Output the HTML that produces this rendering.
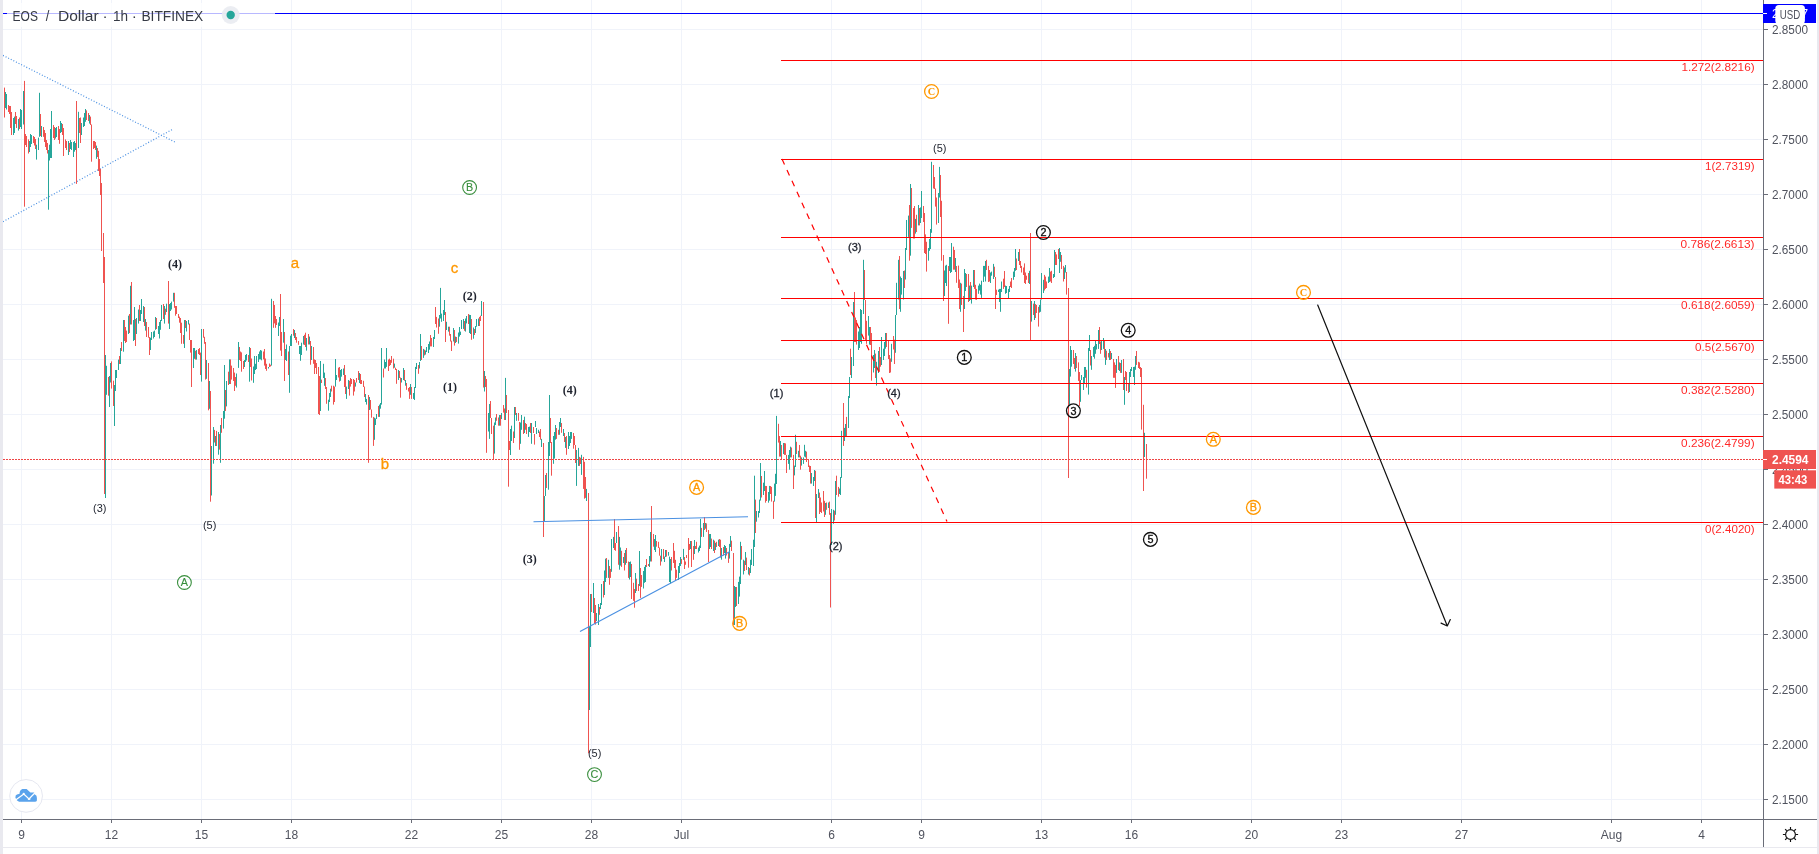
<!DOCTYPE html><html><head><meta charset="utf-8"><title>EOS / Dollar</title>
<style>html,body{margin:0;padding:0;background:#fff;}body{width:1819px;height:854px;overflow:hidden;position:relative;font-family:"Liberation Sans",sans-serif;}svg{position:absolute;left:0;top:0;display:block;will-change:transform}text{font-family:"Liberation Sans",sans-serif}.sf{font-family:"Liberation Serif",serif;font-weight:bold}</style></head><body>
<svg width="1819" height="854" viewBox="0 0 1819 854">
<rect x="0" y="0" width="1819" height="854" fill="#fff"/>
<path d="M21.5 0V819M111.5 0V819M201.5 0V819M291.5 0V819M411.5 0V819M501.5 0V819M591.5 0V819M681.5 0V819M831.5 0V819M921.5 0V819M1041.5 0V819M1131.5 0V819M1251.5 0V819M1341.5 0V819M1461.5 0V819M1611.5 0V819M1701.5 0V819M3 29.5H1763M3 84.5H1763M3 139.5H1763M3 194.5H1763M3 249.5H1763M3 304.5H1763M3 359.5H1763M3 414.5H1763M3 469.5H1763M3 524.5H1763M3 579.5H1763M3 634.5H1763M3 689.5H1763M3 744.5H1763M3 799.5H1763" stroke="#f0f3fa" stroke-width="1" fill="none" shape-rendering="crispEdges"/>
<path d="M3 13.5H1763" stroke="#0000ff" stroke-width="1" shape-rendering="crispEdges"/>
<path d="M3 55.4L176 142.6M3 221.7L173 129.1" stroke="#4a90e2" stroke-width="1.2" stroke-dasharray="1 1.9" fill="none"/>
<path d="M4.5 87.6V117.5M8.5 105.0V112.0M9.5 106.0V114.0M10.5 106.0V128.0M11.5 112.0V135.0M15.5 112.0V124.0M16.5 116.0V128.0M19.5 117.5V129.0M24.5 80.9V206.7M25.5 134.0V145.0M26.5 136.0V147.0M28.5 139.4V153.5M33.5 136.0V143.0M34.5 137.0V145.5M35.5 139.0V149.0M40.5 114.0V136.0M43.5 127.0V136.8M44.5 130.0V142.0M45.5 133.0V147.0M46.5 140.0V150.0M47.5 143.0V153.5M53.5 125.0V138.0M54.5 127.0V140.0M58.5 126.0V140.0M59.5 129.0V143.8M62.5 124.0V135.0M63.5 128.0V156.0M65.5 139.4V148.0M66.5 141.0V150.0M69.5 143.0V152.0M76.5 101.0V183.9M79.5 118.0V133.0M80.5 117.5V143.0M86.5 110.4V120.0M88.5 113.0V121.0M90.5 116.6V125.0M91.5 124.5V161.7M93.5 141.0V149.0M94.5 141.0V148.0M95.5 142.0V150.0M97.5 148.0V157.0M98.5 150.8V171.0M99.5 159.0V176.0M100.5 169.0V195.0M101.5 183.0V251.0M103.5 233.0V283.0M104.5 257.0V494.0M108.5 377.0V395.7M111.5 361.4V388.6M113.5 380.7V406.0M119.5 356.0V364.0M121.5 342.0V351.0M124.5 320.0V341.0M125.5 327.0V343.0M126.5 330.6V342.0M129.5 314.0V333.0M131.5 282.0V324.5M135.5 319.0V346.0M139.5 305.0V321.0M144.5 307.0V326.0M146.5 322.0V337.0M148.5 327.0V337.7M149.5 337.0V355.0M156.5 318.0V329.0M163.5 304.0V319.0M165.5 308.7V314.8M168.5 281.0V323.6M174.5 292.8V307.8M175.5 306.0V315.7M176.5 306.0V314.0M178.5 314.0V318.0M179.5 316.6V322.7M180.5 318.0V333.0M181.5 322.7V343.8M183.5 335.0V343.8M185.5 320.0V328.0M189.5 323.6V340.0M190.5 340.0V352.6M191.5 340.0V387.0M195.5 350.8V359.6M198.5 349.0V354.0M199.5 348.0V355.0M200.5 352.6V375.0M203.5 329.0V337.7M204.5 336.8V343.8M205.5 342.0V379.6M208.5 363.0V410.3M210.5 391.0V501.7M214.5 429.9V442.5M216.5 430.9V446.0M219.5 434.0V449.6M221.5 418.0V432.8M225.5 390.0V411.0M228.5 371.7V385.0M230.5 359.4V384.0M231.5 365.6V379.6M233.5 368.0V381.0M234.5 372.6V391.0M235.5 377.0V385.8M239.5 347.0V360.0M240.5 351.5V361.0M241.5 352.4V371.7M243.5 361.0V369.0M248.5 355.0V362.0M250.5 348.0V367.0M251.5 358.5V380.5M263.5 351.5V359.4M264.5 349.0V365.6M265.5 358.5V369.0M266.5 363.8V370.8M269.5 363.5V367.0M270.5 364.7V366.5M273.5 301.0V327.8M274.5 305.0V323.4M275.5 316.0V327.8M276.5 319.0V325.0M280.5 294.0V350.6M281.5 332.0V356.0M284.5 332.0V381.0M288.5 351.5V375.0M293.5 329.0V335.7M295.5 333.0V340.0M296.5 337.0V342.7M298.5 341.0V344.8M304.5 334.8V345.0M305.5 332.7V347.0M308.5 334.0V344.5M310.5 341.0V364.7M313.5 347.0V363.8M314.5 359.4V374.0M315.5 360.0V368.0M316.5 363.0V374.0M318.5 367.0V414.0M319.5 376.0V415.0M321.5 379.6V383.0M325.5 378.0V389.0M326.5 387.0V403.8M331.5 385.7V391.5M333.5 385.7V404.6M334.5 386.6V402.0M338.5 367.7V377.5M339.5 367.0V381.6M344.5 365.0V387.0M345.5 375.0V394.0M349.5 380.8V395.6M350.5 378.0V386.6M351.5 379.0V384.0M353.5 379.0V395.6M354.5 380.0V391.5M356.5 378.0V382.5M358.5 371.0V380.0M360.5 374.0V384.0M361.5 380.0V384.0M363.5 380.8V387.0M364.5 386.6V397.0M368.5 395.0V462.8M370.5 400.0V409.5M371.5 409.5V417.7M373.5 416.9V445.9M378.5 406.0V416.9M383.5 368.5V377.5M388.5 359.5V371.0M389.5 358.7V366.0M390.5 360.0V365.0M391.5 356.0V362.8M393.5 358.7V368.5M395.5 367.7V370.0M396.5 369.0V383.8M399.5 371.0V378.0M400.5 377.5V397.7M404.5 370.0V380.8M406.5 383.0V389.8M408.5 388.0V391.5M409.5 387.0V398.9M411.5 387.0V398.9M418.5 365.0V373.8M421.5 346.0V360.0M424.5 349.7V355.4M430.5 335.0V346.4M431.5 338.0V346.4M435.5 307.0V324.0M436.5 316.9V327.5M438.5 318.5V333.8M445.5 312.0V342.0M449.5 326.7V335.7M450.5 334.0V341.5M451.5 340.7V351.0M454.5 330.0V345.6M456.5 337.0V342.0M464.5 321.0V330.8M468.5 314.0V324.0M471.5 319.0V339.8M474.5 329.0V335.0M479.5 316.9V326.0M480.5 315.7V321.0M483.5 302.0V387.5M485.5 376.0V387.0M486.5 379.0V452.8M490.5 401.0V418.0M491.5 418.0V434.0M493.5 425.7V459.0M496.5 414.0V420.8M498.5 417.5V425.7M500.5 415.0V425.7M503.5 405.0V412.6M504.5 408.5V420.0M506.5 395.0V413.0M508.5 410.0V486.7M509.5 441.0V450.0M513.5 431.5V443.0M515.5 407.0V415.0M518.5 413.0V420.8M519.5 422.0V449.8M523.5 420.0V434.0M525.5 423.0V429.8M526.5 424.0V434.0M530.5 423.0V433.0M533.5 427.0V433.0M534.5 434.0V444.6M539.5 431.5V437.0M540.5 429.0V439.7M543.5 443.0V537.0M546.5 473.0V488.0M550.5 418.0V443.0M551.5 442.0V475.7M556.5 428.0V438.9M558.5 429.8V434.8M561.5 423.0V432.8M564.5 433.0V442.0M566.5 436.0V454.8M573.5 433.0V448.7M574.5 436.0V445.0M575.5 445.0V463.0M579.5 456.9V465.9M580.5 457.7V464.0M583.5 456.9V488.9M584.5 461.8V498.7M585.5 477.0V497.9M588.5 493.0V753.3M591.5 594.0V612.0M594.5 598.0V623.8M595.5 605.0V624.6M599.5 607.0V614.8M603.5 581.0V597.5M606.5 558.0V577.9M609.5 566.0V584.8M610.5 568.9V577.9M614.5 519.0V550.0M615.5 543.0V550.8M618.5 526.0V564.8M621.5 550.8V566.9M624.5 553.0V570.5M626.5 548.0V563.0M628.5 561.5V577.9M631.5 564.0V599.0M633.5 582.8V600.8M634.5 589.0V607.7M636.5 578.7V591.0M638.5 584.0V591.0M640.5 568.0V597.9M641.5 575.0V586.9M646.5 559.0V567.0M648.5 564.0V566.0M651.5 506.0V561.5M653.5 534.0V546.7M656.5 541.0V546.7M658.5 541.8V548.0M659.5 547.5V555.7M660.5 555.7V565.6M663.5 549.0V559.0M666.5 550.0V556.6M671.5 557.0V570.5M673.5 543.0V563.0M674.5 550.8V568.0M675.5 559.8V581.0M676.5 569.7V577.9M681.5 559.0V563.9M684.5 557.0V569.0M685.5 561.5V564.8M686.5 555.0V558.0M688.5 538.0V567.7M689.5 544.0V550.0M691.5 541.0V567.0M693.5 546.0V559.8M695.5 546.0V549.0M696.5 541.8V549.0M701.5 527.9V536.9M704.5 517.0V530.0M706.5 523.4V532.0M708.5 530.0V562.0M711.5 538.6V549.0M714.5 540.7V553.0M716.5 541.8V547.0M719.5 539.0V547.0M720.5 539.7V557.6M723.5 547.0V555.5M726.5 548.0V555.5M728.5 552.0V562.9M731.5 540.7V551.0M733.5 553.0V625.0M736.5 587.0V606.0M741.5 546.0V559.7M744.5 560.8V571.0M746.5 557.6V570.0M749.5 568.0V575.5M755.5 499.6V533.0M761.5 476.0V497.5M765.5 485.9V502.7M766.5 486.0V501.0M770.5 486.0V494.0M771.5 486.9V501.6M773.5 500.8V518.9M778.5 423.8V442.6M779.5 436.0V456.6M781.5 445.0V459.8M784.5 443.0V454.9M785.5 443.4V454.9M786.5 454.9V473.0M791.5 447.5V457.4M793.5 454.9V489.0M796.5 441.8V454.0M799.5 445.0V457.4M800.5 455.7V469.7M806.5 451.6V462.0M808.5 459.8V467.0M809.5 465.6V472.0M810.5 466.0V483.6M815.5 470.8V518.0M819.5 492.6V514.0M820.5 497.5V512.0M821.5 502.5V513.0M823.5 491.0V511.5M824.5 500.8V517.0M826.5 502.5V509.8M829.5 501.6V514.8M830.5 513.0V607.5M834.5 510.7V520.5M836.5 475.7V495.0M838.5 486.9V496.7M843.5 403.0V445.9M846.5 416.9V436.0M850.5 348.7V375.0M854.5 292.0V342.0M855.5 317.5V342.0M856.5 320.0V344.6M864.5 270.0V300.0M865.5 300.0V340.5M866.5 320.8V343.8M870.5 327.0V345.0M871.5 333.0V380.7M875.5 353.6V378.0M879.5 347.0V371.6M880.5 357.0V366.7M886.5 333.0V347.0M888.5 341.0V359.0M889.5 355.0V373.0M890.5 358.5V372.5M893.5 336.0V349.5M894.5 339.7V364.0M899.5 256.0V309.0M904.5 270.5V288.0M909.5 205.0V260.7M911.5 188.0V227.9M913.5 208.0V238.5M914.5 206.0V238.5M916.5 214.8V232.0M919.5 208.0V225.4M923.5 206.0V222.0M924.5 213.0V253.0M925.5 234.4V254.0M926.5 241.8V271.6M933.5 165.0V188.5M934.5 177.0V189.0M935.5 188.5V206.6M936.5 197.5V224.6M940.5 175.0V217.0M941.5 200.8V260.7M943.5 255.0V301.0M948.5 266.0V323.8M953.5 246.7V269.7M954.5 250.0V269.7M956.5 266.0V282.8M958.5 265.6V288.0M959.5 279.5V309.0M961.5 283.6V305.0M963.5 296.0V332.0M966.5 274.0V287.0M968.5 274.0V302.0M970.5 282.0V300.0M974.5 270.0V288.9M975.5 284.8V299.5M976.5 288.9V299.8M986.5 259.8V270.0M988.5 265.9V282.0M989.5 270.0V281.5M994.5 266.7V277.0M995.5 277.0V309.0M996.5 289.7V295.0M1003.5 278.7V288.9M1004.5 271.0V287.0M1010.5 281.5V287.0M1011.5 278.0V288.0M1016.5 258.5V270.0M1019.5 249.0V265.0M1020.5 261.0V268.0M1021.5 265.9V272.5M1023.5 267.5V275.0M1024.5 263.4V283.0M1025.5 272.5V284.0M1026.5 275.7V279.8M1028.5 273.0V283.0M1030.5 233.0V340.5M1033.5 303.6V315.0M1035.5 304.0V318.0M1036.5 305.0V313.0M1038.5 306.9V326.6M1044.5 274.9V290.5M1045.5 276.6V288.9M1046.5 281.5V288.0M1050.5 271.6V281.5M1051.5 270.8V283.0M1055.5 252.0V265.0M1056.5 254.4V265.0M1058.5 249.0V259.0M1061.5 255.0V269.0M1063.5 265.9V281.5M1066.5 272.0V294.6M1068.5 288.0V478.0M1073.5 350.0V364.0M1074.5 358.0V369.0M1076.5 356.0V368.0M1078.5 362.4V380.9M1079.5 372.0V406.0M1086.5 369.8V387.6M1090.5 350.0V365.5M1099.5 327.0V344.0M1100.5 341.5V353.8M1104.5 340.0V357.5M1106.5 350.7V360.0M1108.5 353.0V357.5M1110.5 351.0V360.0M1113.5 359.0V377.8M1114.5 362.4V377.8M1115.5 364.9V387.9M1118.5 356.0V370.0M1120.5 363.0V372.9M1123.5 359.0V390.0M1125.5 371.0V380.0M1126.5 372.0V391.0M1128.5 383.0V393.0M1136.5 351.0V364.9M1138.5 361.8V368.0M1139.5 362.4V369.0M1140.5 367.0V377.0M1141.5 368.0V429.6M1143.5 404.8V491.0M1146.5 444.0V478.7" stroke="#ef5350" stroke-width="1" fill="none"/>
<path d="M5.5 92.0V108.0M6.5 94.0V109.5M13.5 118.0V135.0M14.5 116.6V133.0M18.5 119.0V130.6M20.5 109.0V127.0M21.5 110.0V129.0M23.5 91.0V124.5M29.5 141.0V152.0M30.5 134.0V147.0M31.5 135.0V144.0M36.5 144.7V159.6M38.5 137.6V150.0M39.5 92.8V136.8M41.5 126.0V137.0M48.5 150.0V209.7M49.5 144.7V160.5M50.5 129.0V158.0M51.5 111.0V158.0M55.5 128.0V138.5M56.5 127.0V137.0M60.5 121.0V133.0M61.5 123.0V132.0M68.5 141.0V155.0M70.5 140.0V149.0M71.5 142.0V150.0M73.5 142.0V157.0M74.5 141.0V151.7M75.5 143.0V150.0M78.5 111.8V148.0M81.5 123.0V135.0M83.5 117.5V127.0M84.5 113.0V126.0M85.5 109.0V121.8M89.5 115.0V123.6M96.5 145.6V158.8M105.5 355.0V498.0M106.5 365.8V394.8M109.5 376.0V407.0M110.5 363.0V382.5M114.5 385.0V426.0M115.5 370.0V391.0M116.5 370.0V378.0M118.5 359.6V370.0M120.5 348.0V364.0M123.5 320.0V351.7M128.5 315.7V334.0M130.5 285.8V324.5M133.5 320.0V341.0M134.5 307.0V340.0M136.5 318.0V334.0M138.5 309.5V323.6M140.5 310.0V321.0M141.5 299.0V314.0M143.5 306.0V322.0M145.5 319.0V330.6M150.5 337.7V350.0M151.5 332.0V340.0M153.5 331.5V338.5M154.5 330.6V337.0M155.5 317.0V329.8M158.5 326.0V334.0M159.5 322.0V338.5M160.5 320.0V329.8M161.5 305.0V321.0M164.5 306.0V323.6M166.5 303.7V312.0M169.5 304.0V329.0M170.5 303.0V311.0M171.5 301.6V309.5M173.5 292.8V301.6M184.5 320.0V348.0M186.5 321.0V331.5M188.5 320.0V324.5M193.5 348.0V368.0M194.5 348.0V358.8M196.5 350.0V359.6M201.5 329.0V381.6M206.5 360.0V378.8M209.5 381.0V408.8M211.5 446.0V495.5M213.5 427.0V463.7M215.5 436.0V446.0M218.5 432.0V454.7M220.5 425.0V462.8M223.5 411.0V428.6M224.5 365.0V418.7M226.5 381.0V406.4M229.5 359.4V384.0M236.5 373.5V387.5M238.5 342.0V367.9M244.5 360.0V367.0M245.5 355.0V362.0M246.5 354.0V360.5M249.5 347.0V381.7M253.5 366.5V382.8M254.5 356.0V374.0M255.5 363.8V370.0M256.5 356.0V369.0M258.5 354.0V362.0M259.5 351.5V359.4M260.5 350.0V359.4M261.5 350.6V360.3M268.5 367.0V368.5M271.5 298.8V365.6M278.5 322.5V336.0M279.5 317.0V326.0M283.5 319.0V342.7M285.5 349.0V360.0M286.5 344.5V361.0M289.5 346.0V392.8M290.5 335.7V346.0M291.5 334.0V346.0M294.5 330.0V338.0M299.5 346.0V354.0M300.5 346.0V360.8M301.5 342.7V355.0M303.5 336.0V344.5M306.5 338.0V350.6M309.5 336.6V344.5M311.5 346.0V360.0M320.5 361.0V411.0M323.5 363.8V378.0M324.5 372.6V385.8M328.5 399.7V410.7M329.5 393.0V402.0M330.5 388.7V397.0M335.5 359.0V386.6M336.5 375.0V380.0M340.5 370.0V380.8M341.5 369.0V376.7M343.5 368.5V375.0M346.5 386.6V398.9M348.5 380.0V389.0M355.5 382.5V386.6M359.5 373.0V383.0M365.5 394.0V402.0M366.5 398.9V404.6M369.5 397.0V410.0M374.5 417.7V439.8M375.5 418.5V425.0M376.5 414.0V419.0M379.5 404.6V416.9M380.5 403.0V408.7M381.5 348.0V404.6M384.5 359.5V368.5M385.5 362.0V368.5M386.5 348.0V366.9M394.5 363.6V367.7M398.5 370.0V380.0M401.5 378.0V382.5M403.5 368.0V380.0M405.5 380.0V385.7M410.5 384.0V394.8M413.5 393.0V398.9M414.5 387.0V400.0M415.5 366.9V388.0M416.5 363.0V369.0M419.5 362.0V368.5M420.5 334.0V361.0M423.5 348.9V357.9M425.5 350.5V354.6M426.5 347.0V352.0M428.5 344.0V353.0M429.5 341.5V349.7M433.5 337.0V347.0M434.5 330.0V339.0M439.5 315.0V326.7M440.5 287.9V318.5M441.5 313.6V321.8M443.5 310.0V321.0M444.5 300.0V315.0M446.5 321.8V330.0M448.5 326.7V331.6M453.5 328.0V341.5M455.5 336.6V343.0M458.5 332.5V343.6M459.5 327.0V336.6M460.5 331.6V335.0M461.5 320.0V329.0M463.5 319.0V328.9M465.5 318.5V331.6M466.5 316.0V323.4M469.5 314.8V333.0M470.5 315.0V334.0M473.5 327.5V338.7M475.5 326.0V333.0M476.5 319.0V326.7M478.5 318.5V326.0M481.5 301.0V316.0M484.5 371.0V391.5M488.5 413.0V431.5M489.5 404.0V438.9M494.5 422.5V453.6M495.5 417.5V425.0M499.5 415.0V425.7M501.5 413.0V419.0M505.5 377.9V420.0M510.5 429.0V455.0M511.5 425.7V441.0M514.5 407.0V438.0M516.5 413.0V420.8M520.5 422.5V443.8M521.5 415.0V429.8M524.5 416.7V433.0M528.5 427.0V436.9M529.5 426.6V432.0M531.5 423.0V443.8M535.5 421.0V427.0M536.5 428.0V434.0M538.5 429.8V433.0M541.5 438.9V447.0M544.5 496.0V522.0M545.5 475.0V496.0M548.5 442.0V489.7M549.5 395.0V456.0M553.5 436.0V463.8M554.5 432.0V458.5M555.5 425.0V439.7M559.5 422.0V434.8M560.5 418.0V427.0M563.5 429.0V436.0M565.5 437.0V447.9M568.5 432.0V449.0M569.5 436.0V446.0M570.5 432.0V443.0M571.5 432.0V438.9M576.5 450.0V485.9M578.5 447.9V465.9M581.5 454.8V474.9M586.5 488.9V501.0M589.5 627.0V710.0M590.5 594.0V647.0M593.5 583.0V613.0M596.5 613.0V621.0M598.5 604.0V625.0M600.5 603.0V609.0M601.5 584.0V605.0M604.5 570.5V595.0M605.5 558.7V582.0M608.5 559.8V577.9M611.5 539.0V571.8M613.5 536.9V548.0M616.5 532.0V543.0M619.5 536.9V569.7M620.5 547.5V565.6M623.5 557.0V563.0M625.5 550.0V564.8M629.5 562.0V579.5M630.5 561.5V577.0M635.5 573.0V593.0M639.5 551.0V586.0M643.5 571.0V588.5M644.5 566.9V582.8M645.5 565.0V582.0M649.5 556.0V567.0M650.5 532.0V561.5M654.5 539.0V550.0M655.5 535.0V552.0M661.5 549.0V561.5M664.5 556.6V562.0M665.5 550.0V557.0M668.5 552.0V555.7M669.5 556.6V582.0M670.5 559.0V583.6M678.5 566.0V580.0M679.5 563.0V573.0M680.5 557.0V566.0M683.5 548.9V559.8M690.5 541.0V549.0M694.5 540.0V554.0M698.5 547.5V552.5M699.5 545.6V551.0M700.5 518.9V548.0M703.5 523.0V536.9M705.5 523.0V528.7M709.5 534.0V549.0M710.5 534.0V547.0M713.5 539.7V551.0M715.5 542.8V550.0M718.5 539.7V546.0M721.5 548.0V559.7M724.5 545.0V553.0M725.5 546.0V558.6M729.5 543.9V558.6M730.5 536.0V547.0M734.5 586.0V625.0M735.5 587.0V607.0M738.5 581.9V604.0M739.5 576.6V596.6M740.5 541.8V584.0M743.5 559.7V574.5M745.5 552.0V565.0M748.5 567.0V574.5M750.5 559.7V573.0M751.5 549.0V565.0M753.5 539.7V566.0M754.5 475.7V547.0M756.5 511.0V521.7M758.5 511.0V517.5M759.5 499.6V513.0M760.5 463.0V500.6M763.5 482.7V495.0M764.5 471.0V491.0M768.5 492.0V502.7M769.5 485.9V500.6M774.5 483.6V501.6M775.5 473.8V495.9M776.5 415.9V484.0M780.5 441.0V456.6M783.5 443.0V454.0M788.5 454.9V463.9M789.5 450.0V469.7M790.5 446.7V457.4M794.5 465.6V475.4M795.5 434.8V467.0M798.5 450.8V457.4M801.5 457.4V465.6M803.5 457.4V463.9M804.5 444.8V456.6M805.5 450.8V457.4M811.5 473.0V483.6M813.5 477.0V486.0M814.5 470.0V481.0M816.5 494.0V523.0M818.5 489.0V498.0M825.5 503.0V514.8M828.5 502.5V508.0M831.5 509.0V545.0M833.5 509.8V523.8M835.5 481.0V514.8M839.5 488.5V494.0M840.5 477.0V495.0M841.5 430.8V477.9M844.5 427.9V441.0M845.5 424.0V436.9M848.5 396.0V428.0M849.5 377.0V398.0M851.5 357.0V378.0M853.5 302.0V366.0M858.5 331.5V350.0M859.5 327.0V348.0M860.5 309.0V342.0M861.5 310.0V343.8M863.5 259.8V314.0M868.5 316.0V335.6M869.5 327.0V344.6M873.5 355.0V372.5M874.5 350.0V368.0M876.5 361.8V385.6M878.5 351.0V373.0M881.5 337.0V365.0M883.5 348.7V360.0M884.5 342.0V356.0M885.5 333.0V348.7M891.5 343.8V361.8M895.5 315.0V352.8M896.5 282.8V315.0M898.5 259.8V299.5M900.5 276.5V311.8M901.5 278.0V294.6M903.5 271.0V299.5M905.5 248.0V279.5M906.5 220.0V250.0M908.5 215.6V236.9M910.5 184.0V255.7M915.5 218.9V233.6M918.5 205.0V225.4M920.5 207.4V223.0M921.5 191.0V218.0M928.5 248.0V260.7M929.5 239.0V250.8M930.5 229.0V249.0M931.5 161.8V232.8M938.5 193.0V223.0M939.5 166.9V197.5M944.5 270.5V296.0M945.5 265.6V283.0M946.5 264.8V286.0M949.5 257.0V271.0M950.5 257.0V273.0M951.5 243.0V272.0M955.5 258.0V272.0M960.5 282.8V311.8M964.5 269.0V309.0M965.5 273.0V291.0M969.5 285.6V301.0M971.5 285.6V303.6M973.5 270.0V287.0M978.5 285.6V293.8M979.5 283.6V290.5M980.5 284.8V294.6M981.5 280.7V297.9M983.5 265.9V282.0M984.5 265.9V276.6M985.5 261.0V281.5M990.5 272.5V283.0M991.5 271.6V275.7M993.5 263.9V279.0M998.5 289.7V292.0M999.5 288.9V302.0M1000.5 288.9V311.8M1001.5 281.5V292.0M1005.5 285.6V293.8M1006.5 286.0V293.0M1008.5 288.9V298.7M1009.5 286.0V292.0M1013.5 271.6V279.8M1014.5 268.0V277.0M1015.5 249.0V270.8M1018.5 252.0V261.0M1029.5 270.8V284.0M1031.5 301.0V321.6M1034.5 301.0V320.0M1039.5 305.0V312.6M1040.5 299.5V311.8M1041.5 273.0V299.5M1043.5 279.8V293.0M1048.5 276.6V283.0M1049.5 268.0V282.0M1053.5 274.0V278.0M1054.5 250.0V277.0M1059.5 248.0V273.0M1060.5 252.0V261.8M1064.5 267.5V279.0M1065.5 265.0V272.5M1069.5 369.0V404.8M1070.5 346.0V376.6M1071.5 350.0V366.7M1075.5 353.0V371.6M1080.5 380.0V401.8M1081.5 375.0V380.0M1083.5 377.0V390.0M1084.5 367.0V384.0M1085.5 367.0V377.8M1088.5 348.0V394.6M1089.5 335.0V351.0M1091.5 356.0V369.8M1093.5 347.0V356.9M1094.5 345.8V358.7M1095.5 340.0V353.8M1096.5 344.0V349.5M1098.5 330.0V348.9M1101.5 340.0V350.0M1103.5 338.0V348.9M1105.5 349.0V364.9M1109.5 349.0V360.0M1111.5 353.0V359.0M1116.5 359.0V372.9M1119.5 362.4V371.0M1121.5 360.0V372.9M1124.5 377.0V404.8M1129.5 372.0V392.0M1130.5 369.0V377.0M1131.5 367.0V371.0M1133.5 367.0V377.0M1134.5 366.7V385.0M1135.5 356.0V369.8M1144.5 432.8V457.0" stroke="#26a69a" stroke-width="1" fill="none"/>
<path d="M533.5 521.8L748 516.8M580 631.5L730 551.4" stroke="#4a90e2" stroke-width="1.1" fill="none"/>
<rect x="781" y="60" width="982" height="1" fill="#ff0000"/>
<text x="1754.6" y="71.2" font-size="11.5" fill="#ff0000" fill-opacity="0.85" text-anchor="end" textLength="73.2" lengthAdjust="spacingAndGlyphs">1.272(2.8216)</text>
<rect x="781" y="159" width="982" height="1" fill="#ff0000"/>
<text x="1754.6" y="170.2" font-size="11.5" fill="#ff0000" fill-opacity="0.85" text-anchor="end" textLength="49.5" lengthAdjust="spacingAndGlyphs">1(2.7319)</text>
<rect x="781" y="237" width="982" height="1" fill="#ff0000"/>
<text x="1754.6" y="248.2" font-size="11.5" fill="#ff0000" fill-opacity="0.85" text-anchor="end" textLength="74" lengthAdjust="spacingAndGlyphs">0.786(2.6613)</text>
<rect x="781" y="298" width="982" height="1" fill="#ff0000"/>
<text x="1754.6" y="309.2" font-size="11.5" fill="#ff0000" fill-opacity="0.85" text-anchor="end" textLength="73.5" lengthAdjust="spacingAndGlyphs">0.618(2.6059)</text>
<rect x="781" y="340" width="982" height="1" fill="#ff0000"/>
<text x="1754.6" y="351.2" font-size="11.5" fill="#ff0000" fill-opacity="0.85" text-anchor="end" textLength="59.5" lengthAdjust="spacingAndGlyphs">0.5(2.5670)</text>
<rect x="781" y="383" width="982" height="1" fill="#ff0000"/>
<text x="1754.6" y="394.2" font-size="11.5" fill="#ff0000" fill-opacity="0.85" text-anchor="end" textLength="73.5" lengthAdjust="spacingAndGlyphs">0.382(2.5280)</text>
<rect x="781" y="436" width="982" height="1" fill="#ff0000"/>
<text x="1754.6" y="447.2" font-size="11.5" fill="#ff0000" fill-opacity="0.85" text-anchor="end" textLength="73.5" lengthAdjust="spacingAndGlyphs">0.236(2.4799)</text>
<rect x="781" y="522" width="982" height="1" fill="#ff0000"/>
<text x="1754.6" y="533.2" font-size="11.5" fill="#ff0000" fill-opacity="0.85" text-anchor="end" textLength="49.5" lengthAdjust="spacingAndGlyphs">0(2.4020)</text>
<path d="M782 159L947 521.5" stroke="#ff0000" stroke-width="1.2" stroke-dasharray="6 6" fill="none"/>
<path d="M3 459.5H1763" stroke="#ee4646" stroke-width="1" stroke-dasharray="2 1" shape-rendering="crispEdges"/>
<path d="M1317.7 305L1447.3 626M1441.1 623.1L1447.3 626L1450.3 619.6" stroke="#111" stroke-width="1.2" fill="none" stroke-linecap="round" stroke-linejoin="round"/>
<text class="sf" x="175" y="268.2" font-size="12" fill="#1e222d" text-anchor="middle">(4)</text>
<text class="sf" x="450" y="391.2" font-size="12" fill="#1e222d" text-anchor="middle">(1)</text>
<text class="sf" x="469.8" y="300.4" font-size="12" fill="#1e222d" text-anchor="middle">(2)</text>
<text class="sf" x="569.7" y="394.0" font-size="12" fill="#1e222d" text-anchor="middle">(4)</text>
<text class="sf" x="529.8" y="563.1" font-size="12" fill="#1e222d" text-anchor="middle">(3)</text>
<text x="594.6" y="757.1" font-size="10.99" fill="#1e222d" font-weight="normal" text-anchor="middle">(5)</text>
<text x="939.7" y="152.2" font-size="10.99" fill="#1e222d" font-weight="normal" text-anchor="middle">(5)</text>
<text x="776.6" y="397.2" font-size="11" fill="#1e222d" font-weight="normal" text-anchor="middle" stroke="#1e222d" stroke-width="0.3">(1)</text>
<text x="835.8" y="550.1" font-size="11" fill="#1e222d" font-weight="normal" text-anchor="middle" stroke="#1e222d" stroke-width="0.3">(2)</text>
<text x="854.8" y="250.8" font-size="11" fill="#1e222d" font-weight="normal" text-anchor="middle" stroke="#1e222d" stroke-width="0.3">(3)</text>
<text x="893.9" y="397.1" font-size="11" fill="#1e222d" font-weight="normal" text-anchor="middle" stroke="#1e222d" stroke-width="0.3">(4)</text>
<text x="99.7" y="511.9" font-size="10.99" fill="#1e222d" font-weight="normal" text-anchor="middle">(3)</text>
<text x="209.6" y="528.9" font-size="10.99" fill="#1e222d" font-weight="normal" text-anchor="middle">(5)</text>
<text x="294.8" y="268.2" font-size="15" fill="#ff9800" font-weight="normal" text-anchor="middle" stroke="#ff9800" stroke-width="0.3">a</text>
<text x="385" y="469.4" font-size="15" fill="#ff9800" font-weight="normal" text-anchor="middle" stroke="#ff9800" stroke-width="0.3">b</text>
<text x="454.6" y="272.8" font-size="15" fill="#ff9800" font-weight="normal" text-anchor="middle" stroke="#ff9800" stroke-width="0.3">c</text>
<circle cx="184.4" cy="582.5" r="6.9" fill="none" stroke="#388e3c" stroke-width="1.1"/>
<text x="184.4" y="586.3" font-size="10.8" fill="#388e3c" stroke="#388e3c" stroke-width="0.1" text-anchor="middle">A</text>
<circle cx="469.6" cy="187.5" r="6.9" fill="none" stroke="#388e3c" stroke-width="1.1"/>
<text x="469.6" y="191.3" font-size="10.8" fill="#388e3c" stroke="#388e3c" stroke-width="0.1" text-anchor="middle">B</text>
<circle cx="594.5" cy="774.6" r="6.9" fill="none" stroke="#388e3c" stroke-width="1.1"/>
<text x="594.5" y="778.4" font-size="10.8" fill="#388e3c" stroke="#388e3c" stroke-width="0.1" text-anchor="middle">C</text>
<circle cx="696.6" cy="487.4" r="6.9" fill="none" stroke="#ff9800" stroke-width="1.3"/>
<text x="696.6" y="491.2" font-size="10.8" fill="#ff9800" stroke="#ff9800" stroke-width="0.35" text-anchor="middle">A</text>
<circle cx="739.6" cy="623.4" r="6.9" fill="none" stroke="#ff9800" stroke-width="1.3"/>
<text x="739.6" y="627.1999999999999" font-size="10.8" fill="#ff9800" stroke="#ff9800" stroke-width="0.35" text-anchor="middle">B</text>
<circle cx="1213.3" cy="439.3" r="6.9" fill="none" stroke="#ff9800" stroke-width="1.3"/>
<text x="1213.3" y="443.1" font-size="10.8" fill="#ff9800" stroke="#ff9800" stroke-width="0.35" text-anchor="middle">A</text>
<circle cx="1253.4" cy="507.4" r="6.9" fill="none" stroke="#ff9800" stroke-width="1.3"/>
<text x="1253.4" y="511.2" font-size="10.8" fill="#ff9800" stroke="#ff9800" stroke-width="0.35" text-anchor="middle">B</text>
<circle cx="931.5" cy="91.5" r="6.9" fill="none" stroke="#ff9800" stroke-width="1.3"/>
<text class="sf" x="931.5" y="95.0" font-size="10.3" fill="#ff9800" text-anchor="middle">C</text>
<circle cx="1303.5" cy="292.4" r="6.9" fill="none" stroke="#ff9800" stroke-width="1.3"/>
<text class="sf" x="1303.5" y="295.9" font-size="10.3" fill="#ff9800" text-anchor="middle">C</text>
<circle cx="964.3" cy="357.4" r="6.9" fill="none" stroke="#111" stroke-width="1.3"/>
<text x="964.3" y="361.2" font-size="10.8" fill="#111" stroke="#111" stroke-width="0.35" text-anchor="middle">1</text>
<circle cx="1043.4" cy="232.5" r="6.9" fill="none" stroke="#111" stroke-width="1.3"/>
<text x="1043.4" y="236.3" font-size="10.8" fill="#111" stroke="#111" stroke-width="0.35" text-anchor="middle">2</text>
<circle cx="1073.4" cy="410.8" r="6.9" fill="none" stroke="#111" stroke-width="1.3"/>
<text x="1073.4" y="414.6" font-size="10.8" fill="#111" stroke="#111" stroke-width="0.35" text-anchor="middle">3</text>
<circle cx="1128.2" cy="330.3" r="6.9" fill="none" stroke="#111" stroke-width="1.3"/>
<text x="1128.2" y="334.1" font-size="10.8" fill="#111" stroke="#111" stroke-width="0.35" text-anchor="middle">4</text>
<circle cx="1150.4" cy="539.4" r="6.9" fill="none" stroke="#111" stroke-width="1.3"/>
<text x="1150.4" y="543.1999999999999" font-size="10.8" fill="#111" stroke="#111" stroke-width="0.35" text-anchor="middle">5</text>
<rect x="7" y="3" width="268" height="24" fill="#fff" fill-opacity="0.72"/>
<text x="12.6" y="21.2" font-size="15.4" fill="#363a45" textLength="25.3" lengthAdjust="spacingAndGlyphs">EOS</text>
<text x="45.7" y="21.2" font-size="15.4" fill="#363a45" textLength="3.6" lengthAdjust="spacingAndGlyphs">/</text>
<text x="57.9" y="21.2" font-size="15.4" fill="#363a45" textLength="40.7" lengthAdjust="spacingAndGlyphs">Dollar</text>
<text x="112.9" y="21.2" font-size="15.4" fill="#363a45" textLength="15" lengthAdjust="spacingAndGlyphs">1h</text>
<text x="141.4" y="21.2" font-size="15.4" fill="#363a45" textLength="61.9" lengthAdjust="spacingAndGlyphs">BITFINEX</text>
<text x="105" y="21.2" font-size="15.4" fill="#363a45" text-anchor="middle">·</text><text x="134.3" y="21.2" font-size="15.4" fill="#363a45" text-anchor="middle">·</text>
<circle cx="230.7" cy="15" r="9" fill="#e9ebf1" fill-opacity="0.9"/><circle cx="230.7" cy="15" r="4.2" fill="#26a69a"/>
<circle cx="26.1" cy="795.9" r="16.4" fill="#fff" stroke="#e6e8f1" stroke-width="1"/>
<path d="M15.4 797.8Q15.2 795 17 794.5L19.6 793.8Q19.5 790 22.4 789.1L26.6 789.1L30.4 792.4L34.1 792.4L34.6 794.3Q37.2 795.5 36.9 798L36.9 800.4Q36.5 801.7 35 801.7L19.1 801.7L17 800.4L16.1 799Z" fill="#5aa3ec"/>
<path d="M15.6 799.9L23.8 794.1L29 798.9L34.8 793.0" stroke="#fff" stroke-width="1.25" fill="none"/><circle cx="23.7" cy="793.9" r="1.1" fill="#fff"/><rect x="27.9" y="798" width="2.4" height="1.9" fill="#fff"/>
<rect x="1763" y="0" width="56" height="854" fill="#fff"/>
<rect x="3" y="820" width="1816" height="34" fill="#fff"/>
<path d="M1763.5 0V847M3 819.5H1817" stroke="#6a6d78" stroke-width="1" shape-rendering="crispEdges"/>
<path d="M1764 29.5H1768M1764 84.5H1768M1764 139.5H1768M1764 194.5H1768M1764 249.5H1768M1764 304.5H1768M1764 359.5H1768M1764 414.5H1768M1764 469.5H1768M1764 524.5H1768M1764 579.5H1768M1764 634.5H1768M1764 689.5H1768M1764 744.5H1768M1764 799.5H1768M21.5 820V823M111.5 820V823M201.5 820V823M291.5 820V823M411.5 820V823M501.5 820V823M591.5 820V823M681.5 820V823M831.5 820V823M921.5 820V823M1041.5 820V823M1131.5 820V823M1251.5 820V823M1341.5 820V823M1461.5 820V823M1611.5 820V823M1701.5 820V823" stroke="#6a6d78" stroke-width="1" shape-rendering="crispEdges"/>
<text x="1772" y="33.9" font-size="12" fill="#50535e" textLength="36" lengthAdjust="spacingAndGlyphs">2.8500</text>
<text x="1772" y="88.9" font-size="12" fill="#50535e" textLength="36" lengthAdjust="spacingAndGlyphs">2.8000</text>
<text x="1772" y="143.9" font-size="12" fill="#50535e" textLength="36" lengthAdjust="spacingAndGlyphs">2.7500</text>
<text x="1772" y="198.9" font-size="12" fill="#50535e" textLength="36" lengthAdjust="spacingAndGlyphs">2.7000</text>
<text x="1772" y="253.9" font-size="12" fill="#50535e" textLength="36" lengthAdjust="spacingAndGlyphs">2.6500</text>
<text x="1772" y="308.9" font-size="12" fill="#50535e" textLength="36" lengthAdjust="spacingAndGlyphs">2.6000</text>
<text x="1772" y="363.9" font-size="12" fill="#50535e" textLength="36" lengthAdjust="spacingAndGlyphs">2.5500</text>
<text x="1772" y="418.9" font-size="12" fill="#50535e" textLength="36" lengthAdjust="spacingAndGlyphs">2.5000</text>
<text x="1772" y="473.9" font-size="12" fill="#50535e" textLength="36" lengthAdjust="spacingAndGlyphs">2.4500</text>
<text x="1772" y="528.9" font-size="12" fill="#50535e" textLength="36" lengthAdjust="spacingAndGlyphs">2.4000</text>
<text x="1772" y="583.9" font-size="12" fill="#50535e" textLength="36" lengthAdjust="spacingAndGlyphs">2.3500</text>
<text x="1772" y="638.9" font-size="12" fill="#50535e" textLength="36" lengthAdjust="spacingAndGlyphs">2.3000</text>
<text x="1772" y="693.9" font-size="12" fill="#50535e" textLength="36" lengthAdjust="spacingAndGlyphs">2.2500</text>
<text x="1772" y="748.9" font-size="12" fill="#50535e" textLength="36" lengthAdjust="spacingAndGlyphs">2.2000</text>
<text x="1772" y="803.9" font-size="12" fill="#50535e" textLength="36" lengthAdjust="spacingAndGlyphs">2.1500</text>
<text x="21.5" y="839.2" font-size="12" fill="#50535e" text-anchor="middle">9</text>
<text x="111.5" y="839.2" font-size="12" fill="#50535e" text-anchor="middle">12</text>
<text x="201.5" y="839.2" font-size="12" fill="#50535e" text-anchor="middle">15</text>
<text x="291.5" y="839.2" font-size="12" fill="#50535e" text-anchor="middle">18</text>
<text x="411.5" y="839.2" font-size="12" fill="#50535e" text-anchor="middle">22</text>
<text x="501.5" y="839.2" font-size="12" fill="#50535e" text-anchor="middle">25</text>
<text x="591.5" y="839.2" font-size="12" fill="#50535e" text-anchor="middle">28</text>
<text x="681.5" y="839.2" font-size="12" fill="#50535e" text-anchor="middle">Jul</text>
<text x="831.5" y="839.2" font-size="12" fill="#50535e" text-anchor="middle">6</text>
<text x="921.5" y="839.2" font-size="12" fill="#50535e" text-anchor="middle">9</text>
<text x="1041.5" y="839.2" font-size="12" fill="#50535e" text-anchor="middle">13</text>
<text x="1131.5" y="839.2" font-size="12" fill="#50535e" text-anchor="middle">16</text>
<text x="1251.5" y="839.2" font-size="12" fill="#50535e" text-anchor="middle">20</text>
<text x="1341.5" y="839.2" font-size="12" fill="#50535e" text-anchor="middle">23</text>
<text x="1461.5" y="839.2" font-size="12" fill="#50535e" text-anchor="middle">27</text>
<text x="1611.5" y="839.2" font-size="12" fill="#50535e" text-anchor="middle">Aug</text>
<text x="1701.5" y="839.2" font-size="12" fill="#50535e" text-anchor="middle">4</text>
<rect x="1763" y="4" width="53" height="19" fill="#0000ff"/>
<path d="M1763 13.5H1767" stroke="#fff" stroke-width="1" shape-rendering="crispEdges"/>
<text x="1772" y="18" font-size="12" fill="#fff" textLength="36" lengthAdjust="spacingAndGlyphs">2.8637</text>
<rect x="1775.3" y="5" width="29.6" height="19" rx="3.5" fill="#fff"/>
<text x="1790" y="19" font-size="12" fill="#50535e" text-anchor="middle" textLength="20.5" lengthAdjust="spacingAndGlyphs">USD</text>
<rect x="1763" y="450" width="53" height="19" fill="#ef5350"/>
<path d="M1763 459.5H1767" stroke="#fff" stroke-width="1" shape-rendering="crispEdges"/>
<text x="1772" y="464" font-size="12" fill="#fff" font-weight="bold" textLength="36.5" lengthAdjust="spacingAndGlyphs">2.4594</text>
<rect x="1774.3" y="470.3" width="41.7" height="18.3" fill="#ef5350"/>
<text x="1792.8" y="484" font-size="12" fill="#fff" font-weight="bold" text-anchor="middle" textLength="28.8" lengthAdjust="spacingAndGlyphs">43:43</text>
<g stroke="#111" stroke-width="1.15" fill="none"><circle cx="1790.5" cy="834.5" r="4.9"/><path d="M1795.80 834.50L1798.10 834.50M1794.25 838.25L1795.87 839.87M1790.50 839.80L1790.50 842.10M1786.75 838.25L1785.13 839.87M1785.20 834.50L1782.90 834.50M1786.75 830.75L1785.13 829.13M1790.50 829.20L1790.50 826.90M1794.25 830.75L1795.87 829.13"/></g>
<rect x="0" y="0" width="3" height="854" fill="#e9e9ef"/>
<rect x="1817" y="0" width="2" height="854" fill="#e9e9ef"/>
<path d="M3 847.5H1817" stroke="#e9e9ef" stroke-width="1" shape-rendering="crispEdges"/>
</svg></body></html>
